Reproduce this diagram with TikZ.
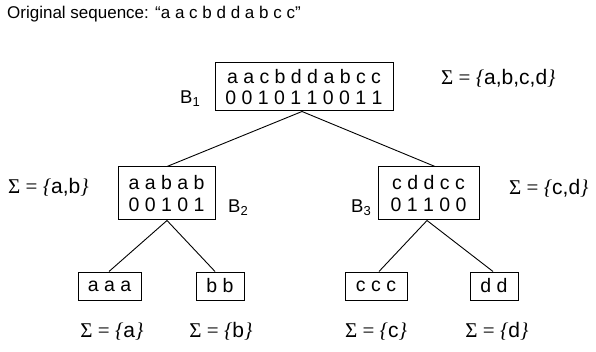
\documentclass[tikz,border=0pt]{standalone}
\usepackage{fontspec}
\setmainfont{Liberation Sans}
\newfontfamily\serifA{Liberation Serif}
\newcommand\sig[1]{{\serifA Σ = \textit{\{}}#1{\serifA\textit{\}}}}
\newcommand\bsub[2]{#1\raisebox{-0.25ex}{\fontsize{13}{13}\selectfont #2}}
\begin{document}
\begin{tikzpicture}[x=1pt,y=-1pt,
  box/.style={draw, line width=1pt, inner sep=0pt, align=center,
    font=\fontsize{19.5}{21.6}\selectfont},
  leaf/.style={box, minimum height=28pt},
  lab/.style={inner sep=0pt, font=\fontsize{18.5}{20}\selectfont},
  sigl/.style={inner sep=0pt, font=\fontsize{21}{23}\selectfont},
  conn/.style={line width=0.9pt}]
\useasboundingbox (0,0) rectangle (596,352);
\node[inner sep=0pt, anchor=base west, font=\fontsize{17}{19}\selectfont] (title) at (7,19) {Original sequence: “a a c b d d a b c c”};
% level 1
\node[box, minimum width=178pt, minimum height=48pt] (b1) at (304,87) {a a c b d d a b c c\\0 0 1 0 1 1 0 0 1 1};
\node[lab, anchor=base east] (l1) at (200,104) {\bsub{B}{1}};
\node[sigl, anchor=base west] (s1) at (441,85) {\sig{a,b,c,d}};
% level 2
\node[box, minimum width=97pt, minimum height=53pt] (b2) at (166.5,193.5) {a a b a b\\0 0 1 0 1};
\node[lab, anchor=base west] (l2) at (228,213) {\bsub{B}{2}};
\node[sigl, anchor=base west] (s2) at (8,194) {\sig{a,b}};
\node[box, minimum width=101pt, minimum height=53pt] (b3) at (428.5,193.5) {c d d c c\\0 1 1 0 0};
\node[lab, anchor=base east] (l3) at (371,213) {\bsub{B}{3}};
\node[sigl, anchor=base west] (s3) at (509,195) {\sig{c,d}};
% leaves
\node[leaf, minimum width=63pt] (la) at (109.5,286) {a a a};
\node[leaf, minimum width=48pt] (lb) at (220,286) {b b};
\node[leaf, minimum width=62pt] (lc) at (376,286) {c c c};
\node[leaf, minimum width=48pt] (ld) at (494,286) {d d};
\node[sigl, anchor=base] (sa) at (112,337) {\sig{a}};
\node[sigl, anchor=base] (sb) at (221,337) {\sig{b}};
\node[sigl, anchor=base] (sc) at (376,337) {\sig{c}};
\node[sigl, anchor=base] (sd) at (497,337) {\sig{d}};
% connectors
\draw[conn] ([xshift=-2pt]b1.south) -- ([xshift=0.5pt]b2.north);
\draw[conn] ([xshift=-2pt]b1.south) -- ([xshift=6.5pt]b3.north);
\draw[conn] ([xshift=0.5pt]b2.south) -- ([xshift=-0.5pt]la.north);
\draw[conn] ([xshift=0.5pt]b2.south) -- ([xshift=-5pt]lb.north);
\draw[conn] ([xshift=-1.5pt]b3.south) -- ([xshift=3pt]lc.north);
\draw[conn] ([xshift=-1.5pt]b3.south) -- ([xshift=-1pt]ld.north);
\end{tikzpicture}
\end{document}
